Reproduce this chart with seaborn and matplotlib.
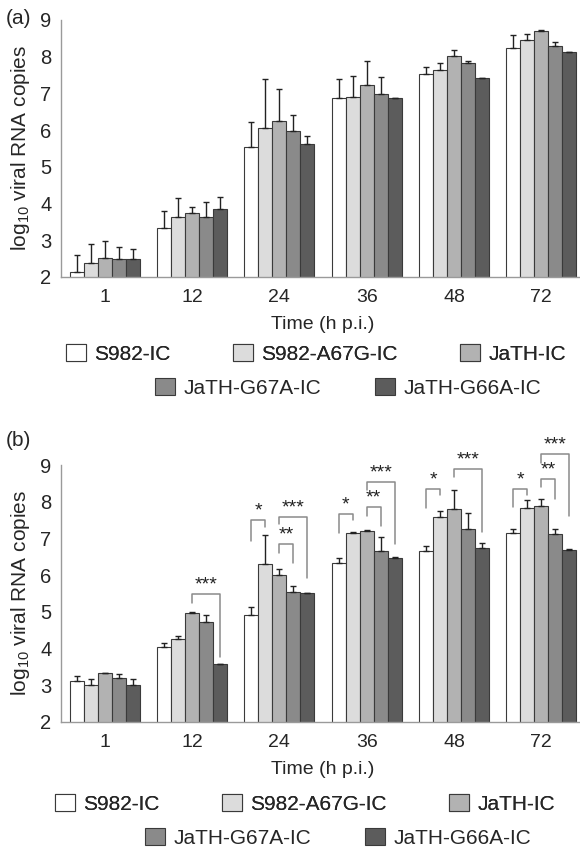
import numpy as np
import pandas as pd
import seaborn as sns
import matplotlib.pyplot as plt
from matplotlib.patches import Patch

times = ["1", "12", "24", "36", "48", "72"]
strains = ["S982-IC", "S982-A67G-IC", "JaTH-IC", "JaTH-G67A-IC", "JaTH-G66A-IC"]
colors = ["#ffffff", "#dcdcdc", "#b2b2b2", "#8a8a8a", "#5c5c5c"]

# panel (a): means and upper error per strain
a_s982 = [2.12, 3.32, 5.54, 6.87, 7.54, 8.23]
a_a67g = [2.38, 3.63, 6.05, 6.89, 7.64, 8.46]
a_jath = [2.50, 3.74, 6.25, 7.24, 8.03, 8.70]
a_g67a = [2.48, 3.63, 5.97, 6.97, 7.82, 8.29]
a_g66a = [2.49, 3.85, 5.62, 6.87, 7.41, 8.14]
a_err_s982 = [0.47, 0.46, 0.69, 0.52, 0.19, 0.35]
a_err_a67g = [0.52, 0.51, 1.35, 0.57, 0.20, 0.16]
a_err_jath = [0.48, 0.15, 0.86, 0.64, 0.16, 0.02]
a_err_g67a = [0.32, 0.42, 0.43, 0.47, 0.06, 0.12]
a_err_g66a = [0.26, 0.31, 0.21, 0.00, 0.00, 0.00]

# panel (b)
b_s982 = [3.12, 4.03, 4.91, 6.32, 6.66, 7.15]
b_a67g = [3.00, 4.25, 6.29, 7.15, 7.57, 7.84]
b_jath = [3.32, 4.96, 6.00, 7.20, 7.80, 7.89]
b_g67a = [3.18, 4.72, 5.55, 6.66, 7.26, 7.11]
b_g66a = [3.00, 3.57, 5.50, 6.47, 6.73, 6.68]
b_err_s982 = [0.13, 0.11, 0.23, 0.14, 0.13, 0.10]
b_err_a67g = [0.16, 0.10, 0.80, 0.02, 0.18, 0.21]
b_err_jath = [0.02, 0.02, 0.16, 0.02, 0.52, 0.18]
b_err_g67a = [0.11, 0.19, 0.16, 0.37, 0.44, 0.15]
b_err_g66a = [0.16, 0.01, 0.02, 0.03, 0.13, 0.02]

# significance brackets in (b): group, bar i, bar j, top, left end, right end, label
brackets = [
    (1, 2, 4, 5.47, 5.25, 3.77, "***"),
    (2, 0, 1, 7.50, 6.94, 7.32, "*"),
    (2, 2, 3, 6.84, 6.60, 6.32, "**"),
    (2, 2, 4, 7.59, 7.39, 5.93, "***"),
    (3, 0, 1, 7.66, 7.15, 7.50, "*"),
    (3, 2, 3, 7.86, 7.61, 7.34, "**"),
    (3, 2, 4, 8.53, 8.32, 6.85, "***"),
    (4, 0, 1, 8.34, 7.82, 8.18, "*"),
    (4, 2, 4, 8.88, 8.66, 7.18, "***"),
    (5, 0, 1, 8.35, 7.86, 8.18, "*"),
    (5, 2, 3, 8.61, 8.41, 8.07, "**"),
    (5, 2, 4, 9.30, 9.06, 7.61, "***"),
]

sns.set_style("white")
plt.rcParams['font.family'] = ['Liberation Sans', 'DejaVu Sans']
plt.rcParams['mathtext.fontset'] = 'custom'
plt.rcParams['mathtext.rm'] = 'Liberation Sans'
plt.rcParams['mathtext.it'] = 'Liberation Sans'

W, H = 580, 852


def to_df(means):
    rows = []
    for s, vals in zip(strains, means):
        for t, v in zip(times, vals):
            rows.append({"time": t, "strain": s, "value": v})
    return pd.DataFrame(rows)


def draw_panel(ax, means, errs):
    df = to_df(means)
    sns.barplot(data=df, x="time", y="value", hue="strain", order=times,
                hue_order=strains, palette=colors, edgecolor="#3a3a3a",
                linewidth=0.8, errorbar=None, legend=False, width=0.8, ax=ax)
    bars = list(ax.containers)
    for k, cont in enumerate(bars):
        xs = [p.get_x() + p.get_width() / 2 for p in cont]
        ys = [p.get_height() for p in cont]
        ax.errorbar(xs, ys, yerr=[np.zeros(len(ys)), errs[k]], fmt="none",
                    ecolor="#222222", elinewidth=1, capsize=2.5, capthick=1)
    ax.set_ylim(2, 9)
    ax.set_xlim(-0.5, 5.5)
    ax.set_yticks(range(2, 10))
    ax.set_xticks(np.arange(0.5, 5.5, 1), minor=True)
    ax.tick_params(axis="x", which="major", length=0, labelsize=14, pad=9)
    ax.tick_params(axis="x", which="minor", length=4, color="#999999", direction="out")
    ax.tick_params(axis="y", length=3, color="#999999", direction="out", labelsize=14.5, pad=4)
    sns.despine(ax=ax)
    for sp in ["left", "bottom"]:
        ax.spines[sp].set_color("#9a9a9a")
        ax.spines[sp].set_linewidth(1)
    ax.set_xlabel("Time (h p.i.)", fontsize=14, labelpad=7)
    ax.set_ylabel(r"log$_{\mathregular{10}}$ viral RNA copies", fontsize=15, labelpad=6)
    return bars


def add_legend(fig, row1_xy, row2_xy):
    handles = [Patch(facecolor=c, edgecolor="#3a3a3a", linewidth=0.8) for c in colors]
    kw = dict(loc="center", frameon=False, fontsize=15, handlelength=0.95,
              handleheight=0.9, handletextpad=0.4, borderpad=0, borderaxespad=0)
    l1 = fig.legend(handles[:3], strains[:3], ncol=3, columnspacing=3.0,
                    bbox_to_anchor=(row1_xy[0] / W, 1 - row1_xy[1] / H), **kw)
    fig.add_artist(l1)
    fig.legend(handles[3:], strains[3:], ncol=2, columnspacing=2.6,
               bbox_to_anchor=(row2_xy[0] / W, 1 - row2_xy[1] / H), **kw)


fig = plt.figure(figsize=(5.8, 8.52), dpi=100)

ax_a = fig.add_axes([61 / W, 1 - 276.7 / H, 524 / W, 256.7 / H])
draw_panel(ax_a, [a_s982, a_a67g, a_jath, a_g67a, a_g66a],
           [a_err_s982, a_err_a67g, a_err_jath, a_err_g67a, a_err_g66a])
add_legend(fig, (316, 354), (348, 388))
fig.text(6 / W, 1 - 18 / H, "(a)", fontsize=15, va="center", ha="left")

ax_b = fig.add_axes([61 / W, 1 - 721.7 / H, 524 / W, 256.7 / H])
bars_b = draw_panel(ax_b, [b_s982, b_a67g, b_jath, b_g67a, b_g66a],
                    [b_err_s982, b_err_a67g, b_err_jath, b_err_g67a, b_err_g66a])
add_legend(fig, (305, 804), (338, 838))
fig.text(6 / W, 1 - 440 / H, "(b)", fontsize=15, va="center", ha="left")

for g, i, j, top, lb, rb, lab in brackets:
    pi = bars_b[i][g]
    pj = bars_b[j][g]
    x1 = pi.get_x() + pi.get_width() / 2
    x2 = pj.get_x() + pj.get_width() / 2
    ax_b.plot([x1, x1, x2, x2], [lb, top, top, rb], color="#8a8a8a", lw=1.1, clip_on=False)
    ax_b.text((x1 + x2) / 2, top + 0.02, lab, ha="center", va="bottom",
              fontsize=14, color="#222222", clip_on=False)

plt.savefig("out.png", dpi=100)
